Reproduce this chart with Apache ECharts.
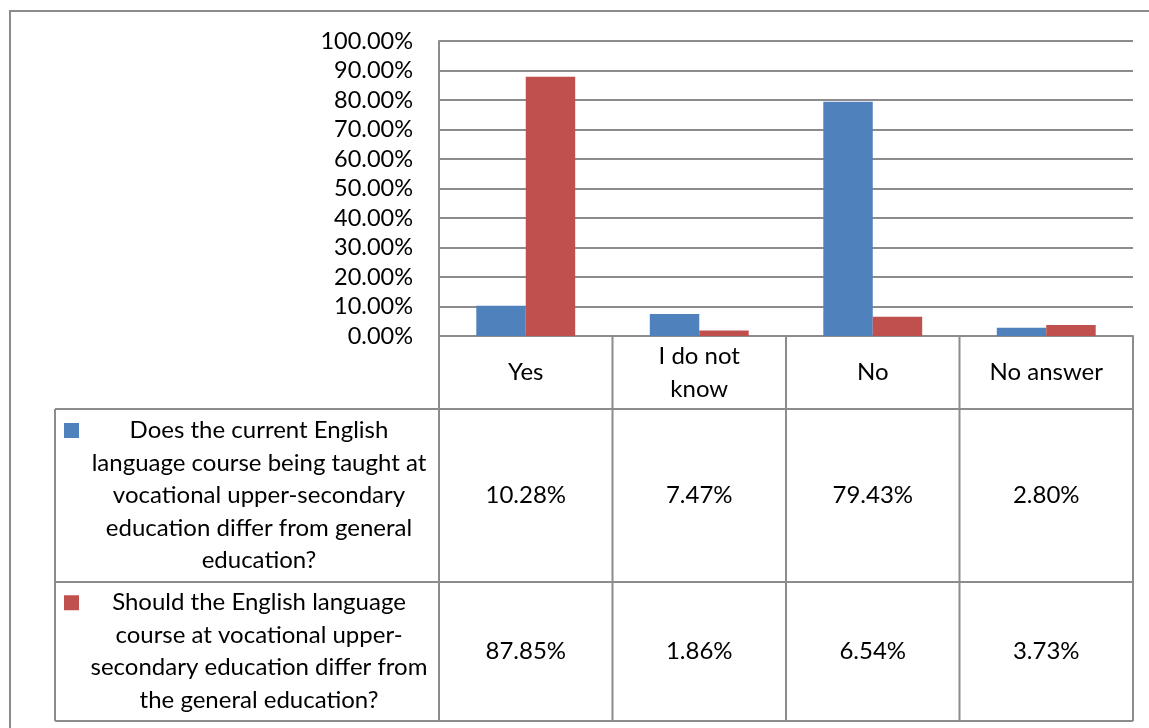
<!DOCTYPE html>
<html>
<head>
<meta charset="utf-8">
<script src="https://cdn.jsdelivr.net/npm/echarts@6/dist/echarts.min.js"></script>
<style>
  html, body { margin: 0; padding: 0; background: #ffffff; }
  #chart { width: 1149px; height: 728px; }
</style>
</head>
<body>
<div id="chart"></div>
<script>
// Answer categories (line breaks as shown in the header row of the data table)
const categories = ['Yes', 'I do not\nknow', 'No', 'No answer'];

// Survey questions, one per series (wrapped as in the table's legend column)
const seriesNames = [
  'Does the current English\nlanguage course being taught at\nvocational upper-secondary\neducation differ from general\neducation?',
  'Should the English language\ncourse at vocational upper-\nsecondary education differ from\nthe general education?'
];

// Share of respondents (%)
const currentCourseDiffers = [10.28, 7.47, 79.43, 2.80];
const shouldCourseDiffer = [87.85, 1.86, 6.54, 3.73];
const seriesValues = [currentCourseDiffers, shouldCourseDiffer];

// Value axis range and step (%)
const yMin = 0;
const yMax = 100;
const yStep = 10;

const seriesColors = ['#4F81BD', '#C0504D'];
const gridColor = '#8c8c8c';
const FONT = 'Lato, "Open Sans", sans-serif';
const AXIS_FONT_SIZE = 23.5;
const TABLE_FONT_SIZE = 24;

const chart = echarts.init(document.getElementById('chart'), null, { renderer: 'canvas' });

const option = {
  animation: false,
  backgroundColor: '#ffffff',
  grid: { left: 439, right: 16, top: 41, bottom: 392, containLabel: false },
  xAxis: {
    type: 'category',
    data: categories,
    axisLine: { show: true, lineStyle: { color: gridColor, width: 2 } },
    axisTick: { show: false },
    axisLabel: { show: false },
    splitLine: { show: false }
  },
  yAxis: {
    type: 'value',
    min: yMin,
    max: yMax,
    interval: yStep,
    axisLine: { show: true, lineStyle: { color: gridColor, width: 2 } },
    axisTick: { show: false },
    axisLabel: {
      color: '#000000',
      fontFamily: FONT,
      fontSize: AXIS_FONT_SIZE,
      margin: 26,
      formatter: v => v.toFixed(2) + '%'
    },
    splitLine: { show: true, lineStyle: { color: gridColor, width: 2 } }
  },
  series: seriesValues.map((vals, i) => ({
    type: 'bar',
    name: seriesNames[i],
    data: vals,
    barGap: '0%',
    barCategoryGap: '43%',
    itemStyle: { color: seriesColors[i] }
  }))
};

chart.setOption(option);

// Data table underneath the plot, aligned with the category bands
function buildTable() {
  const centers = categories.map((c, i) => chart.convertToPixel({ xAxisIndex: 0 }, i));
  const band = centers[1] - centers[0];
  const colEdges = [centers[0] - band / 2].concat(centers.map(c => c + band / 2));
  const axisY = chart.convertToPixel({ yAxisIndex: 0 }, yMin);

  const tableLeft = 55;
  const rowEdges = [axisY, 409, 582, 721];
  const right = colEdges[colEdges.length - 1];

  const els = [];
  const line = (x1, y1, x2, y2) => els.push({
    type: 'line', silent: true,
    shape: { x1, y1, x2, y2 },
    style: { stroke: gridColor, lineWidth: 2 }
  });
  const text = (str, x, y, lh) => els.push({
    type: 'text', silent: true,
    style: {
      text: str, x, y,
      fill: '#000000',
      fontFamily: FONT, fontSize: TABLE_FONT_SIZE,
      lineHeight: lh,
      textAlign: 'center', textVerticalAlign: 'middle'
    }
  });

  // outer frame of the figure
  els.push({
    type: 'rect', silent: true,
    shape: { x: 10, y: 11, width: 1200, height: 800 },
    style: { fill: 'none', stroke: '#8c8c8c', lineWidth: 2 }
  });

  // horizontal rules
  line(tableLeft, rowEdges[1], right, rowEdges[1]);
  line(tableLeft, rowEdges[2], right, rowEdges[2]);
  line(tableLeft, rowEdges[3], right, rowEdges[3]);
  // vertical rules
  line(tableLeft, rowEdges[1], tableLeft, rowEdges[3]);
  colEdges.forEach(x => line(x, rowEdges[0], x, rowEdges[3]));

  // category header row
  categories.forEach((c, i) => text(c, centers[i], (rowEdges[0] + rowEdges[1]) / 2, 33));

  // series rows: legend key, question text, values
  seriesValues.forEach((vals, r) => {
    const top = rowEdges[r + 1];
    const bottom = rowEdges[r + 2];
    const midY = (top + bottom) / 2;
    const nLines = seriesNames[r].split('\n').length;
    const lh = 32.5;
    const firstLineY = midY - (nLines - 1) * lh / 2;
    els.push({
      type: 'rect', silent: true,
      shape: { x: 64, y: firstLineY - 7.5, width: 15, height: 15 },
      style: { fill: seriesColors[r] }
    });
    text(seriesNames[r], 259, midY, lh);
    vals.forEach((v, i) => text(v.toFixed(2) + '%', centers[i], midY, 33));
  });

  chart.setOption({ graphic: { elements: els } });
}

buildTable();
</script>
</body>
</html>
